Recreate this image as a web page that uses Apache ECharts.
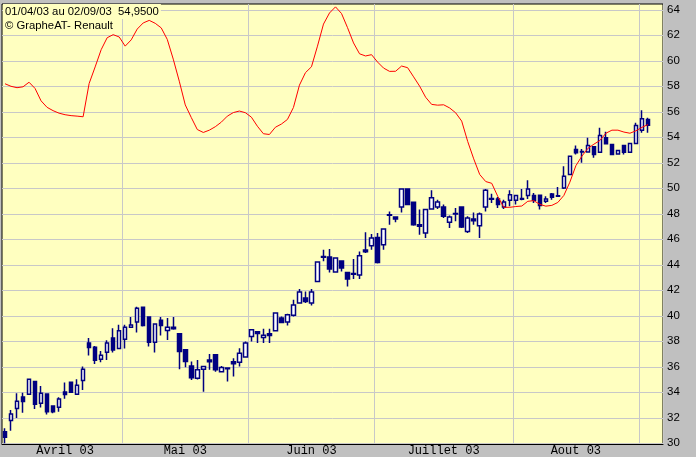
<!DOCTYPE html>
<html>
<head>
<meta charset="utf-8">
<script src="https://cdn.jsdelivr.net/npm/echarts@6/dist/echarts.min.js"></script>
<style>
html,body{margin:0;padding:0;background:#C0C0C0;}
#chart{width:696px;height:457px;}
</style>
</head>
<body>
<div id="chart"></div>
<script>
const titleLine1 = '01/04/03 au 02/09/03  54,9500';
const titleLine2 = '\u00A9 GrapheAT- Renault';
const monthLabels = ['Avril 03','Mai 03','Juin 03','Juillet 03','Aout 03'];
const yTicks = { min: 30, max: 64, step: 2 };

const dates = [
'01/04/03','02/04/03','03/04/03','04/04/03','07/04/03','08/04/03','09/04/03','10/04/03','11/04/03','14/04/03',
'15/04/03','16/04/03','17/04/03','22/04/03','23/04/03','24/04/03','25/04/03','28/04/03','29/04/03','30/04/03',
'02/05/03','05/05/03','06/05/03','07/05/03','08/05/03','09/05/03','12/05/03','13/05/03','14/05/03','15/05/03',
'16/05/03','19/05/03','20/05/03','21/05/03','22/05/03','23/05/03','26/05/03','27/05/03','28/05/03','29/05/03','30/05/03',
'02/06/03','03/06/03','04/06/03','05/06/03','06/06/03','09/06/03','10/06/03','11/06/03','12/06/03','13/06/03',
'16/06/03','17/06/03','18/06/03','19/06/03','20/06/03','23/06/03','24/06/03','25/06/03','26/06/03','27/06/03','30/06/03',
'01/07/03','02/07/03','03/07/03','04/07/03','07/07/03','08/07/03','09/07/03','10/07/03','11/07/03','14/07/03',
'15/07/03','16/07/03','17/07/03','18/07/03','21/07/03','22/07/03','23/07/03','24/07/03','25/07/03','28/07/03',
'29/07/03','30/07/03','31/07/03',
'01/08/03','04/08/03','05/08/03','06/08/03','07/08/03','08/08/03','11/08/03','12/08/03','13/08/03','14/08/03',
'15/08/03','18/08/03','19/08/03','20/08/03','21/08/03','22/08/03','25/08/03','26/08/03','27/08/03','28/08/03','29/08/03',
'01/09/03','02/09/03'
];

const opens = [30.91,31.78,32.72,33.64,33.85,34.84,33.14,33.87,32.93,32.83,
34.03,34.79,33.85,34.92,37.86,37.54,36.60,37.15,38.25,37.43,
38.17,39.11,39.51,40.68,39.90,37.93,39.66,38.85,39.11,38.59,
37.33,36.07,35.11,35.81,36.54,36.94,35.62,35.90,36.39,36.36,
36.76,38.37,38.74,38.30,38.59,38.82,39.82,39.51,40.05,41.00,
41.39,41.00,42.69,44.66,44.61,43.43,44.30,43.40,43.32,43.20,
45.16,45.50,46.15,45.58,47.92,47.75,48.54,49.95,48.90,47.15,
46.50,48.38,48.54,48.54,47.33,48.02,48.54,46.62,47.60,47.07,
48.54,49.20,49.17,48.54,49.06,49.06,49.20,49.43,49.43,49.46,
48.98,49.56,49.42,50.03,51.08,53.04,52.88,52.84,53.25,52.83,
53.96,53.43,52.70,53.36,52.83,53.51,54.56,55.40];

const closes = [30.47,32.30,33.30,33.27,35.03,33.06,33.93,32.48,32.48,33.48,
33.82,34.01,34.56,35.81,37.51,36.52,36.91,37.86,37.31,38.82,
39.11,39.27,40.60,39.24,37.93,39.35,39.24,39.11,38.98,37.20,
36.41,35.15,35.76,36.02,36.39,35.76,35.94,35.85,36.23,37.07,
37.86,38.90,38.61,38.48,38.45,40.21,39.47,40.08,40.84,41.86,
41.12,41.86,44.22,44.60,43.67,44.53,43.75,42.88,43.25,44.71,
45.03,46.10,44.19,46.81,47.88,47.60,49.95,48.72,47.15,47.02,
48.33,49.25,48.93,47.80,47.75,47.98,46.97,47.67,47.46,47.99,
49.84,49.14,48.72,48.93,49.50,49.43,49.14,49.95,49.06,48.65,
49.17,49.30,49.38,50.94,52.51,52.78,52.84,53.36,52.65,54.14,
53.49,52.65,52.96,52.83,53.51,54.93,55.45,54.95];

const lows = [30.00,30.99,31.99,32.40,33.80,32.69,32.80,32.25,32.36,32.48,
33.50,33.95,33.82,34.19,36.88,36.21,36.36,36.54,37.12,37.40,
37.43,39.10,38.69,39.16,37.59,37.12,38.45,38.11,38.90,35.81,
35.97,34.97,35.00,34.05,35.76,35.62,35.55,34.84,35.23,36.02,
36.74,37.98,37.86,37.86,37.86,38.80,39.43,39.24,39.95,40.98,
41.00,40.81,42.67,44.27,43.40,43.38,43.48,42.30,42.88,42.88,
44.93,45.18,44.10,45.18,47.15,47.33,48.11,48.70,47.07,46.36,
46.10,48.33,48.38,47.67,46.89,47.41,46.89,46.50,47.15,46.10,
48.19,48.85,48.46,48.38,48.59,48.72,49.06,49.17,48.85,48.33,
48.85,49.11,49.32,49.95,51.06,52.65,52.00,52.78,52.39,52.81,
53.47,52.63,52.68,52.65,52.81,53.49,54.35,54.35];

const highs = [31.18,32.62,33.93,33.97,35.05,34.89,34.50,33.90,32.95,33.61,
34.76,34.85,35.03,36.02,38.25,37.64,37.23,38.09,39.03,39.29,
39.29,39.90,40.71,40.73,39.92,39.37,39.90,39.82,39.90,38.61,
37.35,36.41,36.54,36.04,37.01,36.96,36.07,35.94,36.68,37.46,
37.98,38.95,38.76,38.98,38.98,40.23,39.95,40.16,41.26,42.10,
41.91,42.10,44.26,45.18,45.24,44.58,44.32,43.42,44.45,45.05,
46.55,46.42,46.50,46.85,48.19,47.77,49.97,49.97,48.92,48.33,
48.35,49.84,49.11,48.72,47.86,48.46,48.56,47.80,48.11,48.11,
49.95,49.58,49.32,49.11,49.84,49.45,49.95,50.63,49.64,49.48,
49.37,49.64,50.11,51.73,52.53,53.36,53.09,53.96,53.27,54.74,
54.43,53.45,52.98,53.38,53.53,55.14,56.13,55.53];

const redLine = [58.20,58.00,57.89,57.96,58.32,57.83,56.86,56.35,56.09,55.89,
55.77,55.70,55.66,55.61,58.22,59.52,60.87,61.81,62.05,61.87,
61.15,61.64,62.49,62.97,63.17,62.94,62.58,61.68,60.13,58.40,
56.54,55.55,54.61,54.38,54.56,54.83,55.19,55.66,55.94,56.06,
55.93,55.58,54.87,54.28,54.22,54.79,55.04,55.40,56.34,58.09,
59.07,59.53,61.15,62.88,63.75,64.23,63.71,62.60,61.40,60.55,
60.38,60.48,59.90,59.43,59.17,59.18,59.59,59.46,58.74,58.01,
57.14,56.58,56.52,56.55,56.30,55.92,55.27,53.67,52.31,51.08,
50.53,50.39,49.37,48.51,48.51,48.57,48.61,48.98,49.03,48.74,
48.60,48.66,48.89,49.44,50.48,51.77,52.52,53.13,53.46,53.75,
54.32,54.56,54.56,54.41,54.32,54.51,54.78,55.00];

// ---- build ----
const cats = dates.concat(['', '']); // two empty slots to the right edge
const monthStarts = [];
dates.forEach((d, i) => { if (i === 0 || d.slice(3, 5) !== dates[i - 1].slice(3, 5)) monthStarts.push(i); });
const labelAt = {};
monthLabels.forEach((lab, k) => {
  const s = monthStarts[k], e = (monthStarts[k + 1] !== undefined ? monthStarts[k + 1] : dates.length) - 1;
  labelAt[Math.round((s + e) / 2)] = lab;
});
const candleData = dates.map((d, i) => [opens[i], closes[i], lows[i], highs[i]]);

const GRID_L = 2, GRID_R = 33;
const pxPerUnit = 12.75;
const top64 = 9.8, bot30 = 443.3;
const frameTop = 4, frameBottom = 446;
const extMax = yTicks.max + (top64 - frameTop) / pxPerUnit;
const extMin = yTicks.min - (frameBottom - bot30) / pxPerUnit;
const gridColor = '#C8C8C8';
const titleFont = {fontFamily: 'Liberation Sans', fontSize: 11.3, fontWeight: 'normal', color: '#000', lineHeight: 12};

const chart = echarts.init(document.getElementById('chart'), null, {renderer: 'canvas'});
chart.setOption({
  animation: false,
  backgroundColor: '#C0C0C0',
  title: [
    {text: titleLine1, left: 3, top: 4, padding: [2, 2, 1, 2], backgroundColor: '#FFFFC0', textStyle: titleFont},
    {text: titleLine2, left: 3, top: 19, padding: [1, 2, 1, 2], backgroundColor: '#FFFFC0', textStyle: titleFont}
  ],
  grid: [
    {left: GRID_L, right: GRID_R, top: frameTop, bottom: 457 - frameBottom, show: true,
     backgroundColor: '#FFFFC0', borderColor: '#000', borderWidth: 1},
    {left: GRID_L, right: GRID_R, top: top64, bottom: 457 - bot30}
  ],
  xAxis: [
    {type: 'category', gridIndex: 0, data: cats, boundaryGap: true,
     axisLine: {show: true, lineStyle: {color: '#000', width: 1}},
     axisTick: {show: false},
     axisLabel: {interval: (i) => labelAt[i] !== undefined, formatter: (v, i) => labelAt[i] || '',
       fontFamily: 'Liberation Mono', fontSize: 12, color: '#000', margin: 1},
     splitLine: {show: true, interval: (i) => i > 0 && monthStarts.indexOf(i) >= 0,
       lineStyle: {color: gridColor, width: 1}}},
    {type: 'category', gridIndex: 1, data: cats, boundaryGap: true, show: false}
  ],
  yAxis: [
    {type: 'value', gridIndex: 0, min: extMin, max: extMax, show: false, splitLine: {show: false}},
    {type: 'value', gridIndex: 1, position: 'right', min: yTicks.min, max: yTicks.max, interval: yTicks.step,
     axisLine: {show: false}, axisTick: {show: false},
     axisLabel: {fontFamily: 'Liberation Sans', fontSize: 11.5, color: '#000', margin: 4},
     splitLine: {show: true, lineStyle: {color: gridColor, width: 1}}}
  ],
  series: [
    {type: 'candlestick', xAxisIndex: 1, yAxisIndex: 1, data: candleData, barWidth: 4,
     itemStyle: {color: '#FFFFFF', color0: '#000080', borderColor: '#000080', borderColor0: '#000080',
       borderColorDoji: '#000080', borderWidth: 1.5}},
    {type: 'line', xAxisIndex: 1, yAxisIndex: 1, data: redLine, symbol: 'none', clip: false, z: 3,
     lineStyle: {color: '#FF0000', width: 1}}
  ]
});
</script>
</body>
</html>
